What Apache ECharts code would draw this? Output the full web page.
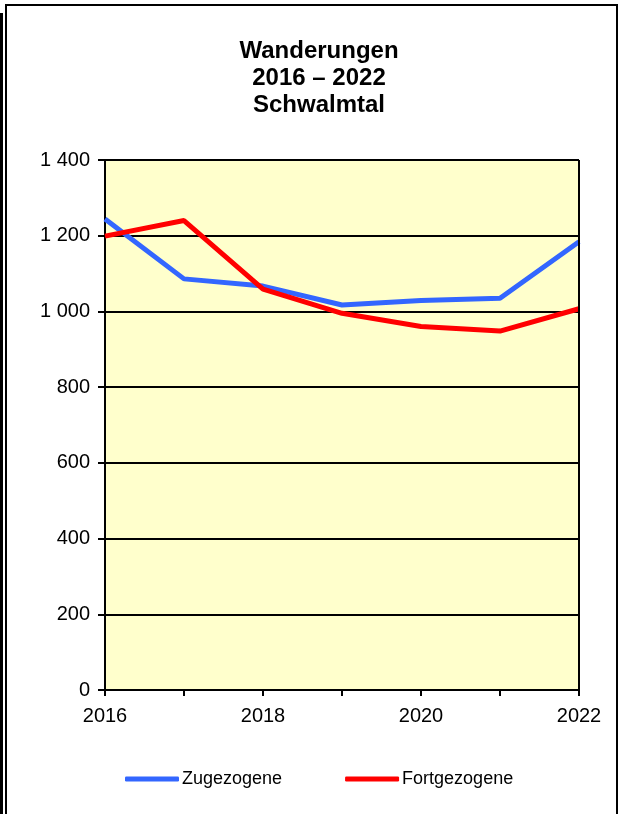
<!DOCTYPE html>
<html><head><meta charset="utf-8">
<script src="https://cdn.jsdelivr.net/npm/echarts@6/dist/echarts.min.js"></script>
<style>html,body{margin:0;padding:0;background:#fff}#c{width:619px;height:814px}</style>
</head><body><div id="c"></div>
<script>
const years = ['2016','2017','2018','2019','2020','2021','2022'];
const zugezogene = [1244, 1086, 1067, 1017, 1029, 1035, 1184];
const fortgezogene = [1199, 1240, 1059, 995, 960, 948, 1007];
const titleLines = ['Wanderungen', '2016 – 2022', 'Schwalmtal'];
const yTicks = [0, 200, 400, 600, 800, 1000, 1200, 1400];

const chart = echarts.init(document.getElementById('c'), null, {renderer: 'canvas'});
const font = '"Liberation Sans", Arial, sans-serif';
chart.setOption({
  animation: false,
  backgroundColor: '#fff',
  title: {
    text: titleLines.join('\n'), left: 314, top: 33, textAlign: 'center',
    textStyle: {fontFamily: font, fontWeight: 'bold', fontSize: 24, lineHeight: 27, color: '#000'}
  },
  graphic: [
    {type: 'rect', shape: {x: 6, y: 5, width: 611, height: 820}, style: {fill: 'none', stroke: '#000', lineWidth: 2}},
    {type: 'rect', shape: {x: 0, y: 13, width: 3, height: 810}, style: {fill: '#000'}},
    {type: 'line', shape: {x1: 579, y1: 160, x2: 579, y2: 690}, style: {stroke: '#000', lineWidth: 2}, z: 10}
  ],
  legend: {
    top: 765, left: 120, itemGap: 63, itemWidth: 54, itemHeight: 5,
    icon: 'roundRect',
    textStyle: {fontFamily: font, fontSize: 18, color: '#000', padding: [0,0,0,-2]},
    data: ['Zugezogene', 'Fortgezogene']
  },
  grid: {left: 105, right: 40, top: 160, bottom: 124, backgroundColor: '#FFFFCC', show: true, borderWidth: 0},
  xAxis: {
    type: 'category', data: years, boundaryGap: false,
    axisLine: {lineStyle: {color: '#000', width: 2}},
    axisTick: {show: true, length: 6, lineStyle: {color: '#000', width: 2}, interval: 0},
    axisLabel: {fontFamily: font, fontSize: 20, color: '#000', interval: 1, margin: 16},
    splitLine: {show: false}
  },
  yAxis: {
    type: 'value', min: 0, max: 1400, interval: 200,
    axisLine: {show: true, lineStyle: {color: '#000', width: 2}},
    axisTick: {show: true, length: 7, lineStyle: {color: '#000', width: 2}},
    axisLabel: {fontFamily: font, fontSize: 20, color: '#000', margin: 15,
      formatter: v => yTicks.includes(v) ? String(v).replace(/\B(?=(\d{3})+(?!\d))/g, ' ') : ''},
    splitLine: {show: true, lineStyle: {color: '#000', width: 2}}
  },
  series: [
    {name: 'Zugezogene', type: 'line', data: zugezogene, symbol: 'none',
     lineStyle: {color: '#3366FF', width: 5}, itemStyle: {color: '#3366FF'}, z: 3},
    {name: 'Fortgezogene', type: 'line', data: fortgezogene, symbol: 'none',
     lineStyle: {color: '#FF0000', width: 5}, itemStyle: {color: '#FF0000'}, z: 4}
  ]
});
</script></body></html>
